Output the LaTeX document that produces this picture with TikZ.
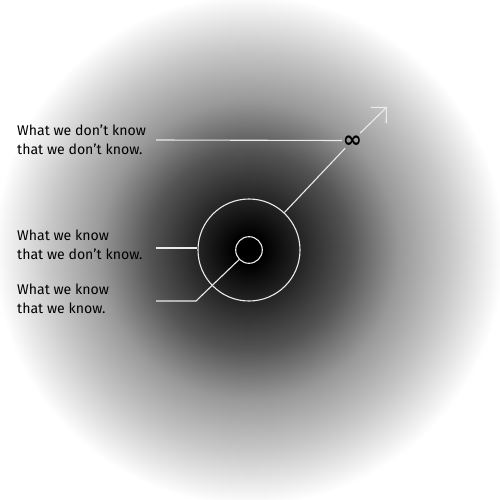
\documentclass[tikz,border=0pt]{standalone}
\usepackage{fontspec}
\setmainfont{Fira Sans}
\newfontfamily\symfont{DejaVu Sans}
\usetikzlibrary{arrows.meta}
\pgfdeclareradialshading{fade}{\pgfpoint{0pt}{0pt}}{color(0pt)=(black); color(15pt)=(black); color(100pt)=(black!67); color(150pt)=(black!40); color(200pt)=(black!22); color(255pt)=(white); color(360pt)=(white)}
\begin{document}
\begin{tikzpicture}[x=1pt,y=-1pt]
\tikzset{
  wline/.style={draw=white!92!black, line width=1.1pt},
  lbl/.style={anchor=base west, inner sep=0pt, align=left, font=\fontsize{14.1}{18.5}\selectfont, text=black},
  ring/.style={circle, draw=white!92!black, line width=1.1pt, inner sep=0pt},
  infsym/.style={circle, inner sep=0pt, minimum size=21pt, text height=0pt, text depth=0pt, font=\symfont\bfseries\fontsize{23}{23}\selectfont, text=black}
}
\useasboundingbox (0,0) rectangle (500,500);
\begin{scope}
\clip (0,0) rectangle (500,500);
\node[inner sep=0pt] (glow) at (249,250) {\pgfuseshading{fade}};
\end{scope}
\node[ring, minimum size=26.6pt] (inner) at (249,250) {};
\node[ring, minimum size=102pt] (outer) at (249,250) {};
\node[infsym] (infty) at (352.5,140.5) {\makebox[0pt]{\raisebox{-6.5pt}[0pt][0pt]{∞}}};
\node[lbl] (know1) at (17,154) {What we don’t know\\that we don’t know.};
\node[lbl] (know2) at (17,259) {What we know\\that we don’t know.};
\node[lbl] (know3) at (17,313) {What we know\\that we know.};
\coordinate (s1) at (156,140);
\coordinate (s2) at (156,248);
\coordinate (s3) at (156,301);
\coordinate (b3) at (196,301);
\coordinate (tip) at (387,107);
\draw[wline] (s1) -- (infty.west);
\draw[wline] (s2) -- (s2 -| outer.west);
\draw[wline] (s3) -- (b3) -- (inner);
\draw[wline] (outer) -- (infty);
\draw[wline, -{Straight Barb[length=11pt,width=22pt]}] (infty) -- (tip);
\end{tikzpicture}
\end{document}
